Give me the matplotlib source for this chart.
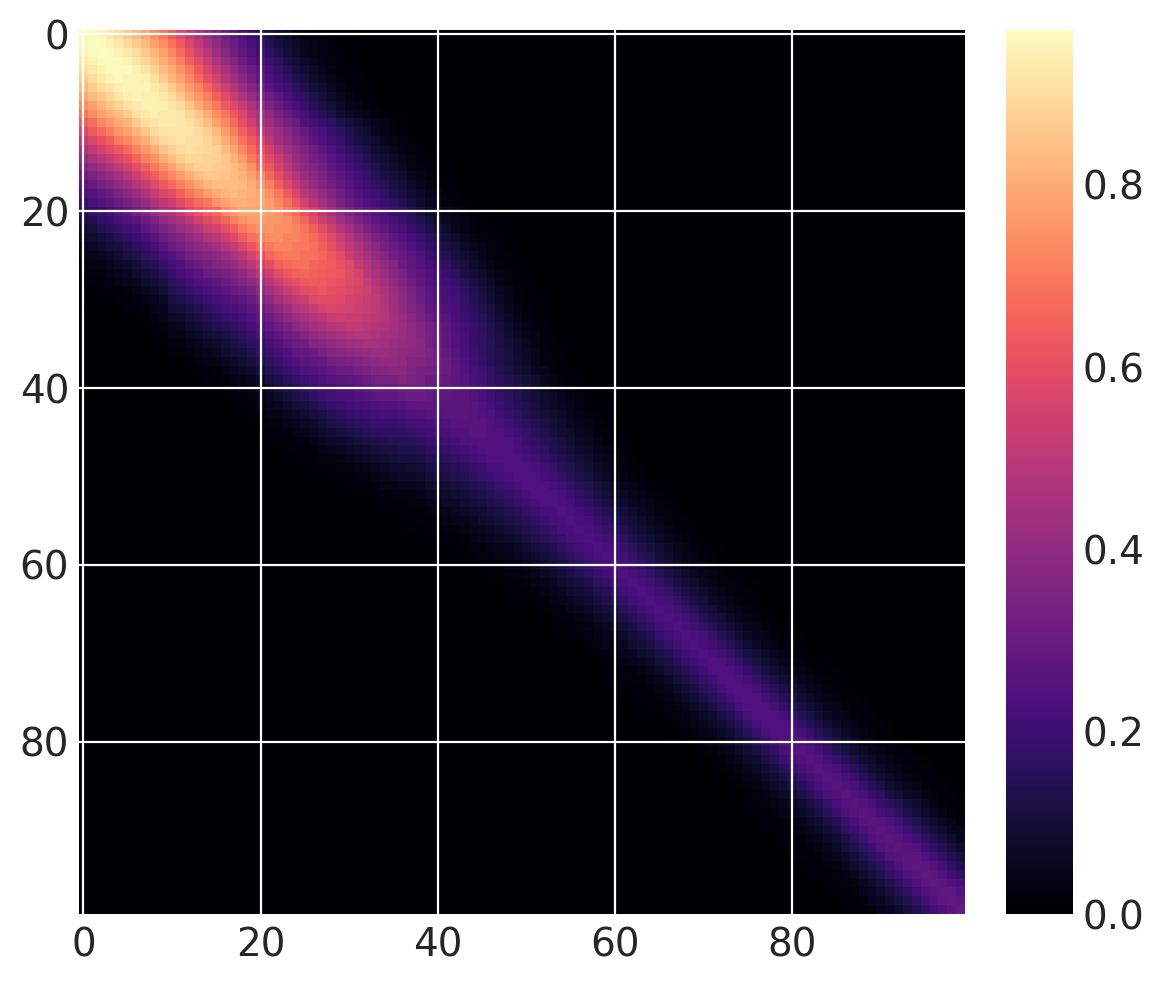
from matplotlib import pyplot as plt
import numpy as np

# upper triangle of the matrix, read row by row (percent), each row starts on the diagonal
upper_rows = [
[96,96,95,93,90,87,83,79,74,69,64,58,52,46,41,36,31,27,23,19,15,12,9,7,5,4,3,2,2,1,1],
[97,96,95,93,90,87,83,78,74,68,63,57,51,45,40,35,30,26,22,18,14,11,9,7,5,4,3,2,1,1,1],
[97,96,95,93,90,86,82,78,73,67,61,55,49,43,38,33,28,24,20,17,13,10,8,6,4,3,2,2,1,1],
[96,96,95,92,89,85,81,76,71,65,59,53,47,41,36,31,27,23,19,16,12,10,7,5,4,3,2,1,1],
[96,96,94,92,88,84,80,75,70,63,57,51,45,40,35,30,26,22,18,15,11,9,7,5,4,2,2,1,1],
[95,95,94,91,87,82,78,73,67,61,55,49,43,38,33,28,24,20,17,14,11,8,6,5,3,2,2,1,1],
[95,95,93,91,87,82,77,72,66,60,54,48,42,37,32,27,23,20,16,13,10,8,6,4,3,2,1,1],
[94,94,93,90,86,81,76,71,65,59,53,47,41,36,31,27,23,19,16,13,10,8,6,4,3,2,1,1],
[94,94,92,90,86,80,75,70,64,58,52,46,41,35,30,26,22,19,15,12,10,7,5,4,3,2,1,1],
[93,93,92,89,85,80,74,69,63,57,50,45,40,34,30,26,22,18,15,12,9,7,5,4,3,2,1,1],
[93,92,91,88,84,78,73,67,60,54,47,43,38,34,30,25,22,19,16,13,11,9,7,5,4,3,2,1,1],
[92,92,90,87,83,77,71,65,59,52,46,42,37,33,29,25,22,19,16,13,10,8,6,4,3,2,1,1],
[91,91,89,86,81,75,69,63,57,50,44,40,36,32,28,24,21,18,15,12,10,8,6,4,3,2,1,1],
[90,89,88,84,79,73,67,61,55,48,43,39,35,31,27,24,20,17,14,12,9,7,5,4,3,2,1,1],
[88,88,86,82,77,70,65,59,53,47,41,37,33,30,26,23,20,17,14,11,9,7,5,4,2,2,1,1],
[87,86,84,80,75,67,62,56,50,44,39,36,32,28,25,22,19,16,13,10,8,6,4,3,2,1,1],
[85,84,82,78,73,66,60,54,48,42,38,34,30,27,24,21,18,15,12,10,8,6,4,3,2,1,1],
[84,83,80,76,71,65,58,52,46,41,37,33,29,26,23,20,17,15,12,10,7,5,4,3,2,1,1],
[82,81,79,75,70,64,57,50,45,40,36,32,28,25,22,20,17,14,11,9,7,5,4,2,2,1,1],
[80,79,77,73,68,62,55,49,44,39,34,30,27,24,22,19,17,14,11,8,6,5,3,2,2,1,1],
[78,77,75,71,67,61,55,49,44,39,35,31,28,25,22,19,17,14,11,8,6,5,4,3,2,1,1],
[76,76,74,70,66,60,54,49,44,39,35,31,28,25,22,19,16,14,11,8,6,5,4,3,2,1,1],
[74,74,72,69,65,59,54,48,44,39,35,31,28,25,22,19,16,13,11,8,6,4,3,2,2,1,1],
[72,72,70,67,63,58,53,48,43,39,34,31,28,25,22,19,16,13,10,8,6,4,3,2,2,1,1],
[70,70,68,65,61,56,51,47,42,38,33,30,28,25,21,18,15,12,10,7,5,4,3,2,1,1],
[68,68,66,63,59,54,49,45,41,37,32,29,27,24,20,17,14,11,9,7,5,3,2,2,1,1],
[66,65,64,61,58,52,48,44,40,36,30,28,25,23,20,17,13,11,8,6,4,3,2,1,1],
[64,63,62,59,56,50,46,42,38,34,29,27,25,22,19,16,12,10,8,6,4,3,2,1,1],
[62,61,59,57,53,48,44,40,36,32,28,26,23,21,18,15,12,9,7,5,3,2,2,1,1],
[59,58,56,54,50,46,42,38,34,30,27,25,22,20,17,14,11,8,6,4,3,2,1,1],
[56,55,53,51,47,43,39,35,31,28,25,23,21,18,15,12,9,7,5,3,2,2,1,1],
[54,53,51,48,44,40,36,33,29,27,24,22,19,16,13,11,8,6,4,3,2,1,1],
[51,50,48,45,41,38,34,31,28,26,23,20,17,15,12,9,7,5,3,2,1,1],
[48,47,45,42,39,36,33,30,27,24,21,19,16,13,11,8,6,4,3,2,1,1],
[45,44,42,40,37,34,31,28,25,22,19,17,14,12,9,7,5,4,2,2,1,1],
[42,41,40,38,34,31,28,25,22,19,17,15,12,10,8,6,4,3,2,1,1],
[39,39,38,36,32,29,26,23,20,17,15,13,11,8,7,5,3,2,2,1,1],
[36,36,35,33,30,27,24,21,18,15,13,11,9,7,5,3,3,2,1,1],
[33,33,32,30,28,25,22,20,17,15,12,10,8,6,5,3,2,2,1,1],
[30,30,29,28,26,23,21,18,16,14,12,10,8,6,4,3,2,2,1,1],
[28,28,27,26,24,22,19,17,15,13,11,9,7,5,4,3,2,1,1,1],
[28,27,27,25,23,21,18,16,14,12,10,8,7,5,4,3,2,1,1],
[27,27,26,24,22,20,17,15,13,11,9,7,6,5,3,2,1,1,1],
[27,26,25,24,21,19,17,14,12,10,9,7,5,4,3,2,1,1],
[26,26,25,23,21,18,16,14,12,10,8,6,5,4,3,2,1,1],
[26,25,24,22,20,18,15,13,11,9,8,6,5,3,3,2,1,1],
[25,25,24,22,19,17,15,13,11,9,7,6,4,3,2,2,1,1],
[25,24,23,21,19,17,14,12,10,8,7,5,4,3,2,1,1],
[25,24,23,21,18,16,14,12,10,8,6,5,4,3,2,1,1],
[24,24,22,20,18,15,13,11,9,7,6,4,3,2,2,1,1],
[24,24,22,20,18,15,13,11,9,7,5,4,3,2,1,1],
[24,24,22,20,17,15,13,11,9,7,5,4,3,2,1,1],
[24,24,22,20,17,15,12,10,8,7,5,4,3,2,1,1],
[24,23,22,19,17,14,12,10,8,6,5,4,3,2,1,1],
[24,23,22,19,17,14,12,10,8,6,5,3,3,2,1,1],
[24,23,22,19,16,14,12,10,8,6,5,3,2,2,1,1],
[24,23,21,19,16,14,11,9,7,6,4,3,2,1,1],
[24,23,21,19,16,13,11,9,7,5,4,3,2,1,1],
[24,23,21,19,16,13,11,9,7,5,4,3,2,1,1],
[24,23,21,18,15,13,10,8,6,5,4,3,2,1,1],
[24,23,21,18,15,12,10,8,6,5,4,3,2,1,1],
[24,23,21,18,15,12,10,8,6,5,4,3,2,1,1],
[24,23,21,18,15,12,10,8,6,5,3,3,2,1,1],
[24,23,21,18,15,12,10,8,6,4,3,2,2,1,1],
[24,23,21,18,15,12,10,7,6,4,3,2,2,1,1],
[24,23,21,18,15,12,10,7,5,4,3,2,1,1],
[24,23,21,18,15,12,10,7,5,4,3,2,1,1],
[24,23,21,18,15,12,10,7,5,4,3,2,1,1],
[24,23,21,18,15,12,9,7,5,4,3,2,1,1],
[24,23,21,18,15,12,9,7,5,4,3,2,1,1],
[24,23,21,18,15,12,9,7,5,4,3,2,1,1],
[24,24,21,18,15,12,9,7,5,4,3,2,1,1],
[25,24,22,18,15,12,9,7,5,4,3,2,1,1],
[25,24,22,18,15,12,9,7,5,4,3,2,1,1],
[25,24,22,18,15,12,9,7,5,4,3,2,1,1],
[25,24,22,18,15,12,9,7,5,4,3,2,2,1],
[25,24,22,18,15,12,9,7,5,4,3,2,2,1],
[25,24,22,18,15,12,9,7,5,4,3,2,2,1],
[25,24,22,18,15,12,9,7,5,4,3,2,2,1],
[25,25,22,19,15,12,9,7,5,4,3,2,2,1],
[25,25,22,19,15,12,9,7,5,4,3,2,2,1],
[26,25,22,19,15,12,9,7,5,4,3,2,2,1],
[26,25,22,19,15,12,9,7,5,4,3,2,2,1],
[26,25,23,19,15,12,9,7,5,4,3,2,2,1],
[26,25,23,19,15,12,9,7,5,4,3,2,2,1],
[26,25,23,19,15,12,9,7,6,4,3,2,2,1],
[26,25,23,19,16,12,10,7,6,4,3,2,2,1],
[26,25,23,19,16,13,10,8,6,4,3,2,2],
[27,26,23,20,16,13,10,8,6,5,3,2],
[27,26,24,20,16,13,10,8,6,5,3],
[27,26,24,20,16,13,10,8,6,5],
[27,26,24,20,17,13,11,8,6],
[27,26,24,20,17,14,11,8],
[27,27,24,21,17,14,11],
[28,27,25,21,17,14],
[28,27,25,21,18],
[28,27,25,22],
[28,28,25],
[29,28],
[29],
]
tick_values = [0, 20, 40, 60, 80]
cbar_ticks = [0.0, 0.2, 0.4, 0.6, 0.8]

n = len(upper_rows)
print(n)
mat = np.zeros((n, n))
for i, row in enumerate(upper_rows):
    for k, val in enumerate(row):
        mat[i, i + k] = val / 100
        mat[i + k, i] = val / 100

w, h = 1164, 983
fig = plt.figure(figsize=(w / 200, h / 200), dpi=200)
ax = fig.add_axes([79 / w, 1 - 914 / h, (965 - 79) / w, (914 - 30) / h])
cax = fig.add_axes([1006 / w, 1 - 914 / h, (1073 - 1006) / w, (914 - 30) / h])

im = ax.imshow(mat, cmap='magma', vmin=0, vmax=mat.max(), aspect='auto')
ax.set_xticks(tick_values)
ax.set_yticks(tick_values)
ax.grid(True, color='white', linewidth=0.8)
ax.set_axisbelow(False)
ax.tick_params(axis='x', length=0, labelsize=14, labelcolor='#262626', pad=4.5)
ax.tick_params(axis='y', length=0, labelsize=14, labelcolor='#262626', pad=3.5)
for s in ax.spines.values():
    s.set_visible(False)

cb = fig.colorbar(im, cax=cax, ticks=cbar_ticks)
cb.outline.set_visible(False)
cb.ax.tick_params(length=0, labelsize=14, labelcolor='#262626', pad=3.3)

plt.savefig("out.png", dpi=200)
